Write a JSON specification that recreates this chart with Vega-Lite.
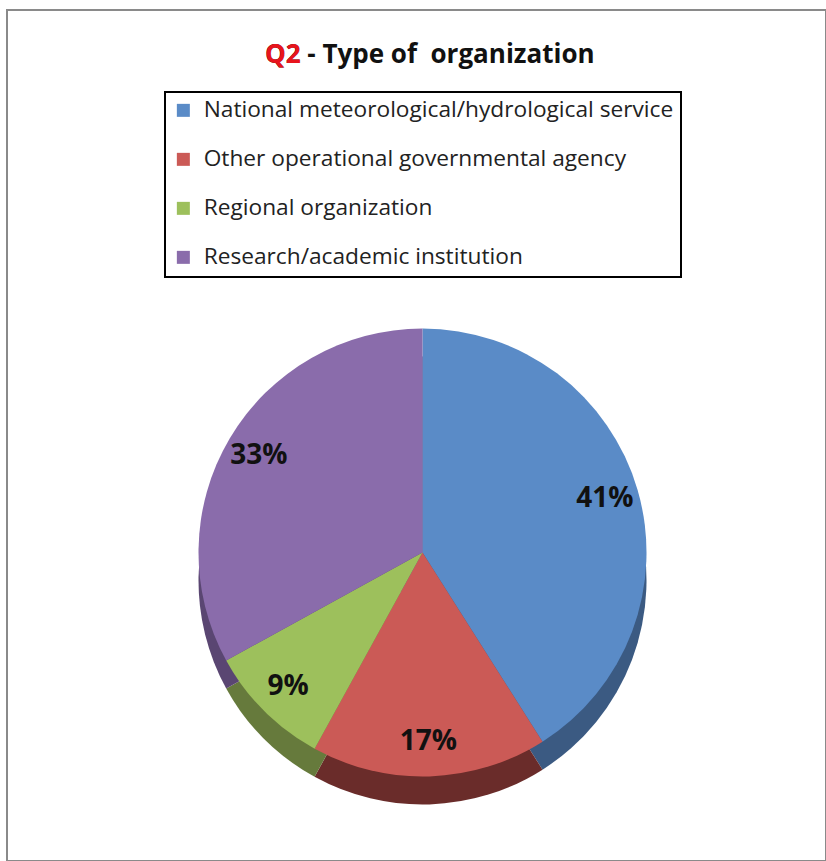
{
  "$schema": "https://vega.github.io/schema/vega-lite/v6.json",
  "autosize": {"type": "none"},
  "padding": {"left": 7, "top": 10, "right": 0, "bottom": 0},
  "width": 819,
  "height": 851,
  "background": "white",
  "title": {
    "text": "Q2 - Type of\u00a0 organization",
    "subtitle": "Q2",
    "anchor": "start",
    "frame": "group",
    "dx": 258,
    "offset": -59,
    "font": "Open Sans",
    "fontSize": 26,
    "fontWeight": "bold",
    "color": "#111111",
    "subtitleFont": "Open Sans",
    "subtitleFontSize": 26,
    "subtitleFontWeight": "bold",
    "subtitleColor": "#e8141c",
    "subtitlePadding": -26
  },
  "data": {
    "values": [
      {"type": "National meteorological/hydrological service", "value": 41, "order": 1, "label": "41%"},
      {"type": "Other operational governmental agency", "value": 17, "order": 2, "label": "17%"},
      {"type": "Regional organization", "value": 9, "order": 3, "label": "9%"},
      {"type": "Research/academic institution", "value": 33, "order": 4, "label": "33%"}
    ]
  },
  "layer": [
    {
      "data": {"values": [{"frame": "border"}]},
      "mark": {"type": "rect", "fill": "transparent", "stroke": "#8a8a8a", "strokeWidth": 2},
      "encoding": {}
    },
    {
      "mark": {"type": "arc", "outerRadius": 224, "xOffset": 6, "yOffset": 145},
      "encoding": {
        "theta": {"field": "value", "type": "quantitative", "stack": true},
        "order": {"field": "order", "type": "quantitative"},
        "color": {
          "field": "type",
          "type": "nominal",
          "legend": null,
          "scale": {
            "domain": ["National meteorological/hydrological service", "Other operational governmental agency", "Regional organization", "Research/academic institution"],
            "range": ["#3b5a82", "#6a2c2a", "#667a3c", "#5a4672"]
          }
        }
      }
    },
    {
      "mark": {"type": "arc", "outerRadius": 224, "xOffset": 6, "yOffset": 117},
      "encoding": {
        "theta": {"field": "value", "type": "quantitative", "stack": true},
        "order": {"field": "order", "type": "quantitative"},
        "color": {
          "field": "type",
          "type": "nominal",
          "scale": {
            "domain": ["National meteorological/hydrological service", "Other operational governmental agency", "Regional organization", "Research/academic institution"],
            "range": ["#5a8bc7", "#cb5a56", "#9dc05c", "#8a6cab"]
          },
          "legend": {
            "title": null,
            "orient": "none",
            "legendX": 158,
            "legendY": 82,
            "direction": "vertical",
            "strokeColor": "#000000",
            "fillColor": "#ffffff",
            "padding": 7,
            "rowPadding": 25,
            "symbolType": "square",
            "symbolSize": 169,
            "symbolStrokeWidth": 0,
            "labelFont": "Open Sans",
            "labelFontSize": 22.7,
            "labelColor": "#222222",
            "labelLimit": 700,
            "labelOffset": 9
          }
        }
      }
    },
    {
      "mark": {"type": "text", "radius": 190, "xOffset": 6, "yOffset": 117, "font": "Open Sans", "fontSize": 28, "fontWeight": "bold", "color": "#111111"},
      "encoding": {
        "theta": {"field": "value", "type": "quantitative", "stack": true},
        "order": {"field": "order", "type": "quantitative"},
        "text": {"field": "label", "type": "nominal"}
      }
    }
  ],
  "resolve": {"scale": {"color": "independent"}},
  "config": {
    "view": {"stroke": null},
    "legend": {"strokeWidth": 2}
  }
}
